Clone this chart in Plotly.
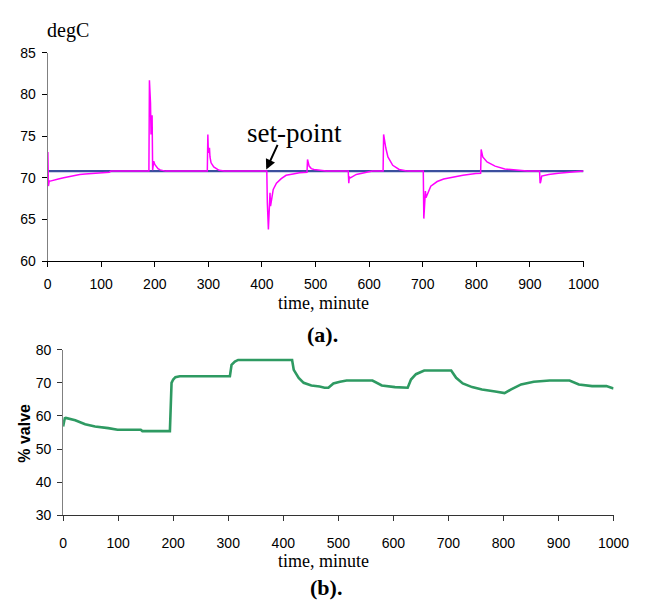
import plotly.graph_objects as go

W, H = 647, 604

# ---- data ----
sp_t = [0, 1000]
sp_v = [70.8, 70.8]

temp_t = [0, 0.5, 1.5, 3, 5, 10, 20, 30, 40, 50, 60, 70, 80, 95, 115, 118,
          189, 190, 192, 193, 194, 195, 196, 198, 200, 203, 206, 210, 215, 220,
          298, 299, 300, 301, 302, 303, 305, 310, 315, 320, 330,
          409, 410, 412, 415, 416, 421, 427, 436, 445, 458, 470, 484,
          485, 488, 492, 497, 505, 515, 520,
          561, 562, 563, 565, 576, 588, 603, 606,
          626, 627, 631, 635, 644, 656, 668, 675,
          701, 702, 705, 706, 715, 727, 739, 757, 775, 799, 808,
          809, 812, 820, 835, 853, 877, 895,
          918, 919, 920, 922, 935, 953, 977, 998, 1000]
temp_v = [73.0, 73.0, 69.0, 69.6, 69.6, 69.7, 69.85, 70.0, 70.15, 70.3, 70.4, 70.45, 70.5, 70.6, 70.65, 70.8,
          70.8, 81.7, 79.0, 75.2, 77.5, 77.5, 70.9, 72.0, 71.6, 71.3, 71.1, 70.95, 70.85, 70.8,
          70.8, 75.2, 73.0, 73.3, 73.6, 72.5, 71.8, 71.3, 71.05, 70.9, 70.8,
          70.8, 67.0, 63.8, 68.2, 66.6, 68.6, 69.35, 69.9, 70.3, 70.45, 70.6, 70.65,
          72.2, 71.4, 71.1, 71.0, 70.9, 70.85, 70.8,
          70.8, 69.35, 70.1, 70.0, 70.4, 70.55, 70.7, 70.8,
          70.8, 75.2, 73.6, 72.5, 71.5, 71.0, 70.85, 70.8,
          70.8, 65.1, 68.4, 67.6, 69.0, 69.55, 69.85, 70.1, 70.3, 70.5, 70.55,
          73.4, 72.5, 71.9, 71.4, 71.05, 70.9, 70.8,
          70.8, 69.35, 69.5, 70.2, 70.4, 70.55, 70.65, 70.75, 70.8]

valve_t = [0, 3, 5, 22, 40, 58, 82, 99, 141, 144,
           194, 197, 200, 204, 212, 303, 306, 312, 318, 416,
           419, 428, 437, 451, 466, 475, 482, 491, 503, 515,
           562, 579, 603, 626, 632, 641, 656, 705, 714, 726,
           743, 761, 785, 802, 814, 832, 855, 884, 920, 937,
           961, 987, 1000]
valve_v = [56.8, 59.3, 59.4, 58.7, 57.5, 56.8, 56.3, 55.8, 55.8, 55.4,
           55.4, 70.0, 71.0, 71.7, 72.0, 72.0, 75.4, 76.4, 76.9, 76.9,
           73.9, 71.5, 70.0, 69.2, 68.9, 68.5, 68.5, 69.8, 70.3, 70.7,
           70.7, 69.2, 68.7, 68.5, 71.0, 72.6, 73.7, 73.7, 71.5, 69.8,
           68.7, 68.0, 67.4, 66.9, 68.0, 69.5, 70.3, 70.7, 70.7, 69.5,
           69.0, 69.0, 68.3]

x_ticks = [0, 100, 200, 300, 400, 500, 600, 700, 800, 900, 1000]
top_y_ticks = [60, 65, 70, 75, 80, 85]
bot_y_ticks = [30, 40, 50, 60, 70, 80]

assert len(temp_t) == len(temp_v)
assert len(valve_t) == len(valve_v)

# ---- layout helpers (pixel -> paper) ----
def px(x):
    return x / W

def py(y):
    return 1 - y / H

TICKFONT = dict(family="Liberation Sans, Arial", size=14, color="#000")
SERIF = "Liberation Serif, Times New Roman, serif"

fig = go.Figure()
fig.add_trace(go.Scatter(x=sp_t, y=sp_v, mode="lines",
                         line=dict(color="#3b4f9e", width=2.2),
                         xaxis="x", yaxis="y", showlegend=False, hoverinfo="skip"))
fig.add_trace(go.Scatter(x=temp_t, y=temp_v, mode="lines",
                         line=dict(color="#ff00ff", width=1.5),
                         xaxis="x", yaxis="y", showlegend=False, hoverinfo="skip"))
fig.add_trace(go.Scatter(x=valve_t, y=valve_v, mode="lines",
                         line=dict(color="#2e9a62", width=2.6),
                         xaxis="x2", yaxis="y2", showlegend=False, hoverinfo="skip"))

axis_common = dict(showgrid=False, zeroline=False, ticks="outside", ticklen=5,
                   tickwidth=1, tickfont=TICKFONT, showline=True, linewidth=1.2)

fig.update_layout(
    width=W, height=H,
    margin=dict(l=0, r=0, t=0, b=0),
    paper_bgcolor="white", plot_bgcolor="white",
    xaxis=dict(domain=[px(45), px(598)], range=[0, 1000], tickvals=x_ticks,
               anchor="y", linecolor="#000", tickcolor="#000",
               ticklabelstandoff=5, **axis_common),
    yaxis=dict(domain=[py(260), py(46)], range=[60, 85], tickvals=top_y_ticks,
               anchor="x", linecolor="#808080", tickcolor="#000",
               ticklabelstandoff=3, **axis_common),
    xaxis2=dict(domain=[px(61), px(629)], range=[0, 1000], tickvals=x_ticks,
                anchor="y2", linecolor="#333", tickcolor="#333",
                ticklabelstandoff=10, **axis_common),
    yaxis2=dict(domain=[py(521), py(351)], range=[30, 80], tickvals=bot_y_ticks,
                anchor="x2", linecolor="#808080", tickcolor="#333",
                ticklabelstandoff=3, **axis_common),
)

annotations = [
    dict(text="degC", x=px(42), y=py(23), xref="paper", yref="paper",
         xanchor="left", yanchor="middle", showarrow=False,
         font=dict(family=SERIF, size=20, color="#000")),
    dict(text="time, minute", x=px(330), y=py(303), xref="paper", yref="paper",
         xanchor="center", yanchor="middle", showarrow=False,
         font=dict(family=SERIF, size=18, color="#000")),
    dict(text="<b>(a).</b>", x=px(329), y=py(335), xref="paper", yref="paper",
         xanchor="center", yanchor="middle", showarrow=False,
         font=dict(family=SERIF, size=22, color="#000")),
    dict(text="set-point", x=px(300), y=py(128), xref="paper", yref="paper",
         xanchor="center", yanchor="middle", showarrow=False,
         font=dict(family=SERIF, size=27, color="#000")),
    dict(text="", x=408, y=71.0, xref="x", yref="y", showarrow=True,
         ax=12, ay=-26, arrowhead=2, arrowsize=1, arrowwidth=2, arrowcolor="#000"),
    dict(text="<b>% valve</b>", x=px(21), y=py(437), xref="paper", yref="paper",
         xanchor="center", yanchor="middle", showarrow=False, textangle=-90,
         font=dict(family="Liberation Sans, Arial", size=16, color="#000")),
    dict(text="time, minute", x=px(330), y=py(568), xref="paper", yref="paper",
         xanchor="center", yanchor="middle", showarrow=False,
         font=dict(family=SERIF, size=18, color="#000")),
    dict(text="<b>(b).</b>", x=px(332), y=py(595), xref="paper", yref="paper",
         xanchor="center", yanchor="middle", showarrow=False,
         font=dict(family=SERIF, size=22, color="#000")),
]
fig.update_layout(annotations=annotations)

fig.write_html("out.html")
